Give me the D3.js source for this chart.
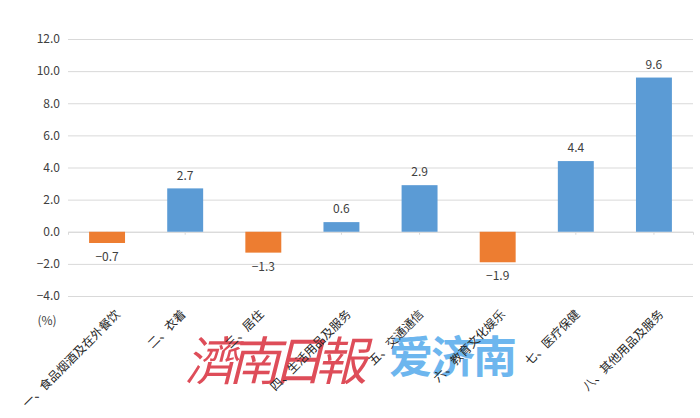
<!DOCTYPE html>
<html><head><meta charset="utf-8">
<script src="https://cdn.jsdelivr.net/npm/d3@7/dist/d3.min.js"></script>
<style>body{margin:0;background:#fff}svg{display:block}</style>
</head><body>
<svg id="chart" width="700" height="418"></svg>
<script>
const categories = ["一、食品烟酒及在外餐饮","二、衣着","三、居住","四、生活用品及服务","五、交通通信","六、教育文化娱乐","七、医疗保健","八、其他用品及服务"];
const values = [-0.7, 2.7, -1.3, 0.6, 2.9, -1.9, 4.4, 9.6];
const yTicks = [-4, -2, 0, 2, 4, 6, 8, 10, 12];
const unitLabel = "(%)";
const watermarkRed = "濟南日報";
const watermarkBlue = "爱济南";

const svg = d3.select("#chart");
const font = "'Noto Sans CJK SC', 'Noto Sans', sans-serif";
const mLeft = 68, mRight = 693, mTop = 39, mBottom = 296;

const x = d3.scaleBand().domain(categories).range([mLeft, mRight]).paddingInner(0.54).paddingOuter(0.27);
const y = d3.scaleLinear().domain([-4, 12]).range([mBottom, mTop]);

// watermark
svg.append("text").attr("x", 185).attr("y", 380).attr("font-family", font).attr("font-size", 52)
  .attr("font-style", "italic").attr("fill", "#de4d59").attr("textLength", 182)
  .text(watermarkRed);
svg.append("text").attr("x", 389).attr("y", 373).attr("font-family", font).attr("font-size", 44)
  .attr("font-weight", "bold").attr("fill", "#6db6ee").attr("textLength", 128)
  .text(watermarkBlue);

// grid + y axis
const yAxis = d3.axisLeft(y).tickValues(yTicks).tickSize(-(mRight - mLeft)).tickFormat(d3.format(".1f"));
const gy = svg.append("g").attr("transform", `translate(${mLeft},0)`).call(yAxis);
gy.select(".domain").remove();
gy.selectAll(".tick line").attr("stroke", "#d9d9d9").attr("stroke-width", 1);
gy.selectAll(".tick text").attr("x", -8).attr("fill", "#404040").attr("font-family", font).attr("font-size", 12);

// zero axis ticks
const xAxis = d3.axisBottom(x).tickSize(3).tickFormat("");
const gx = svg.append("g").attr("transform", `translate(0,${y(0)})`).call(xAxis);
gx.select(".domain").attr("stroke", "#d9d9d9");
gx.selectAll(".tick line").attr("stroke", "#d9d9d9");

// bars
svg.append("g").selectAll("rect").data(values).join("rect")
  .attr("x", (d, i) => x(categories[i]))
  .attr("width", x.bandwidth())
  .attr("y", d => y(Math.max(0, d)))
  .attr("height", d => Math.abs(y(d) - y(0)))
  .attr("fill", d => d < 0 ? "#ed7d31" : "#5b9bd5");

// value labels
svg.append("g").selectAll("text").data(values).join("text")
  .attr("x", (d, i) => x(categories[i]) + x.bandwidth() / 2)
  .attr("y", d => d < 0 ? y(d) + 14 : y(d) - 13)
  .attr("dy", "0.35em")
  .attr("text-anchor", "middle")
  .attr("font-family", font).attr("font-size", 12).attr("fill", "#404040")
  .text(d => d3.format(".1f")(d));

// category labels (rotated; longer labels sit slightly further right, as in the source)
svg.append("g").selectAll("text").data(categories).join("text")
  .attr("transform", d => `translate(${x(d) + x.bandwidth() / 2 + 1.8 * d.length - 6},${315}) rotate(-45)`)
  .attr("text-anchor", "end")
  .attr("font-family", font).attr("font-size", 12).attr("fill", "#262626")
  .text(d => d);

// unit label
svg.append("text").attr("x", 47).attr("y", 325).attr("text-anchor", "middle")
  .attr("font-family", font).attr("font-size", 12).attr("fill", "#404040").text(unitLabel);
</script>
</body></html>
